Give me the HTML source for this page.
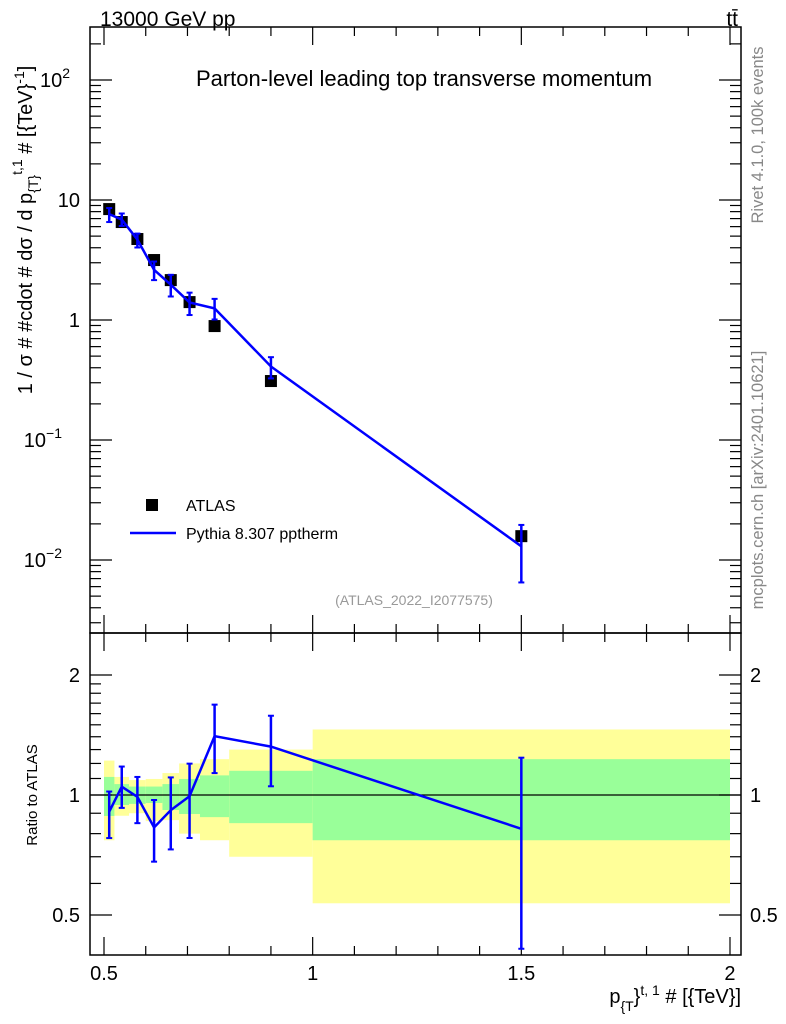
<!DOCTYPE html>
<html><head><meta charset="utf-8"><style>
html,body{margin:0;padding:0;background:#fff;}
svg{display:block;font-family:"Liberation Sans",sans-serif;}
</style></head><body>
<svg id="c" width="786" height="1024" xmlns="http://www.w3.org/2000/svg">
<text x="100" y="26" font-size="21">13000 GeV pp</text>
<text x="738" y="26" font-size="21" text-anchor="end">tt̄</text>
<text x="424" y="86" font-size="22" text-anchor="middle">Parton-level leading top transverse momentum</text>
<text transform="translate(763,135) rotate(-90)" font-size="16.5" fill="#888" text-anchor="middle">Rivet 4.1.0,  100k events</text>
<text transform="translate(763,480) rotate(-90)" font-size="16.5" fill="#888" text-anchor="middle">mcplots.cern.ch [arXiv:2401.10621]</text>
<text x="414" y="605" font-size="14" fill="#999" text-anchor="middle">(ATLAS_2022_I2077575)</text>
<text transform="translate(32,230) rotate(-90)" font-size="20" text-anchor="middle">1 / σ # #cdot # dσ / d p<tspan font-size="14" dy="6">{T}</tspan><tspan font-size="14" dy="-16">t,1</tspan><tspan dy="10"> # [{TeV}</tspan><tspan font-size="14" dy="-8">-1</tspan><tspan dy="8">]</tspan></text>
<text transform="translate(37,795) rotate(-90)" font-size="15" text-anchor="middle">Ratio to ATLAS</text>
<text x="741" y="1003" font-size="20" text-anchor="end">p<tspan font-size="14" dy="8">{T</tspan><tspan dy="-8">}</tspan><tspan font-size="14" dy="-8">t, 1</tspan><tspan dy="8"> # [{TeV}]</tspan></text>
<g id="g"></g>
<rect x="146" y="499" width="12" height="12" fill="#000"/>
<text x="186" y="511" font-size="16">ATLAS</text>
<line x1="130" y1="533" x2="176" y2="533" stroke="#00f" stroke-width="2.5"/>
<text x="186" y="539" font-size="16">Pythia 8.307 pptherm</text>
</svg>
<script>
const binEdges=[0.5,0.525,0.56,0.6,0.64,0.68,0.73,0.8,1.0,2.0];
const dataY=[8.4,6.55,4.73,3.16,2.15,1.41,0.89,0.31,0.0158];
const mcY=[7.63,6.87,4.68,2.62,1.97,1.40,1.25,0.41,0.013];
const mcHi=[8.57,7.72,5.25,3.07,2.38,1.69,1.50,0.49,0.0196];
const mcLo=[6.55,6.08,4.02,2.15,1.57,1.10,1.01,0.326,0.0065];
const bandYHi=[1.22,1.11,1.09,1.097,1.135,1.2,1.23,1.3,1.46];
const bandYLo=[0.77,0.887,0.9,0.86,0.865,0.8,0.77,0.70,0.535];
const bandGHi=[1.11,1.065,1.05,1.05,1.065,1.097,1.12,1.15,1.23];
const bandGLo=[0.886,0.944,0.95,0.955,0.917,0.896,0.88,0.85,0.77];
const xTicks=[0.5,1,1.5,2];
const xTickLabels=["0.5","1","1.5","2"];
const NS="http://www.w3.org/2000/svg";
const g=document.getElementById('g');
const L=90,R=741,T=27,M=633,B=955;
const X=v=>104+(v-0.5)*417.33;
const Y=v=>320-120*Math.log10(v);
const YR=v=>795-120*Math.log2(v);
function el(t,a,p){const e=document.createElementNS(NS,t);for(const k in a)e.setAttribute(k,a[k]);(p||g).appendChild(e);return e;}
for(let i=0;i<dataY.length;i++){
 const x0=X(binEdges[i]),x1=X(binEdges[i+1]);
 const r1=el('rect',{x:x0,y:YR(bandYHi[i]),width:x1-x0,height:YR(bandYLo[i])-YR(bandYHi[i]),fill:'#ffff99'});
 
 
 const r2=el('rect',{x:x0,y:YR(bandGHi[i]),width:x1-x0,height:YR(bandGLo[i])-YR(bandGHi[i]),fill:'#99ff99'});
 
 
}
el('line',{x1:L,y1:795,x2:R,y2:795,stroke:'#000','stroke-width':1.2});
const f1=el('rect',{x:L,y:T,width:R-L,height:M-T,fill:'none',stroke:'#000','stroke-width':1.5});


const f2=el('rect',{x:L,y:M,width:R-L,height:B-M,fill:'none',stroke:'#000','stroke-width':1.5});


for(let v=0.5;v<=2.0001;v+=0.1){
 const px=X(v),maj=Math.abs(v*2-Math.round(v*2))<1e-6,len=maj?18:9;
 [[M,-1],[T,1],[B,-1],[M,1]].forEach(([y0,d])=>el('line',{x1:px,y1:y0,x2:px,y2:y0+d*len,stroke:'#000','stroke-width':1.2}));
}
xTicks.forEach((v,i)=>{const t=el('text',{x:X(v),y:980,'font-size':20,'text-anchor':'middle'});t.textContent=xTickLabels[i];
 
 });
for(let e=-3;e<=2;e++){for(let m=1;m<=9;m++){const v=m*Math.pow(10,e),py=Y(v);if(py<T||py>M)continue;const len=m==1?22:11;
 el('line',{x1:L,y1:py,x2:L+len,y2:py,stroke:'#000','stroke-width':1.2});el('line',{x1:R,y1:py,x2:R-len,y2:py,stroke:'#000','stroke-width':1.2});}}
[[100,'10','2'],[10,'10',''],[1,'1',''],[0.1,'10','−1'],[0.01,'10','−2']].forEach(([v,b,s])=>{
 const t=el('text',{x:s?70:80,y:Y(v)+7,'font-size':20,'text-anchor':'end'});t.textContent=b;
 if(s){t.setAttribute('x',s.length>1?62:70);const ts=el('tspan',{'font-size':14,dy:-9},t);ts.textContent=s;}
 
 });
[0.5,0.6,0.7,0.8,0.9,1,1.1,1.2,1.3,1.4,1.5,1.6,1.7,1.8,1.9,2].forEach(v=>{const py=YR(v);const len=(v==1||v==2||v==0.5)?22:11;
 el('line',{x1:L,y1:py,x2:L+len,y2:py,stroke:'#000','stroke-width':1.2});el('line',{x1:R,y1:py,x2:R-len,y2:py,stroke:'#000','stroke-width':1.2});});
[[2,'2'],[1,'1'],[0.5,'0.5']].forEach(([v,s])=>{
 const t=el('text',{x:80,y:YR(v)+7,'font-size':20,'text-anchor':'end'});t.textContent=s;
 
 
 const t2=el('text',{x:750,y:YR(v)+7,'font-size':20});t2.textContent=s;
 
 });
const cx=i=>X((binEdges[i]+binEdges[i+1])/2);
dataY.forEach((v,i)=>{const r=el('rect',{x:cx(i)-6,y:Y(v)-6,width:12,height:12,fill:'#000'});
 
 });
const pl=el('polyline',{points:mcY.map((v,i)=>cx(i)+','+Y(v)).join(' '),fill:'none',stroke:'#00f','stroke-width':2.5});


const rl=el('polyline',{points:mcY.map((v,i)=>cx(i)+','+YR(v/dataY[i])).join(' '),fill:'none',stroke:'#00f','stroke-width':2.5});


function eb(x,y1,y2,name){el('line',{x1:x,y1:y1,x2:x,y2:y2,stroke:'#00f','stroke-width':2.5});
 el('line',{x1:x-3,y1:y1,x2:x+3,y2:y1,stroke:'#00f','stroke-width':2});
 const c=el('line',{x1:x-3,y1:y2,x2:x+3,y2:y2,stroke:'#00f','stroke-width':2});
 
 }
mcY.forEach((v,i)=>{eb(cx(i),Y(mcHi[i]),Y(mcLo[i]),'pythia-errorbar');
 eb(cx(i),YR(mcHi[i]/dataY[i]),YR(Math.max(mcLo[i]/dataY[i],0.38)),'pythia-ratio-errorbar');});
</script>
</body></html>
